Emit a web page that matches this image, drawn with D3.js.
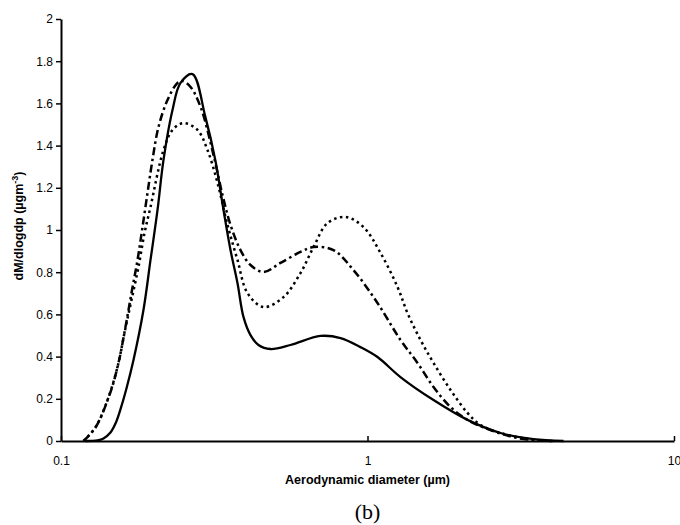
<!DOCTYPE html>
<html>
<head>
<meta charset="utf-8">
<script src="https://cdn.jsdelivr.net/npm/d3@7"></script>
<style>
  body { margin: 0; background: #fff; }
  .tick text { font-family: "Liberation Sans", Arial, sans-serif; font-size: 12px; fill: #000; }
  .axisTitle { font-family: "Liberation Sans", Arial, sans-serif; font-size: 12.5px; font-weight: bold; fill: #000; }
</style>
</head>
<body>
<div id="chart"></div>
<script>
// diameters (µm) and dM/dlogdp values
var solidX = [0.1202, 0.1315, 0.1376, 0.1450, 0.1508, 0.1563, 0.1636, 0.1724, 0.1858, 0.1959, 0.2065, 0.2160, 0.2311, 0.2454, 0.2685, 0.2958, 0.3189, 0.3390, 0.3573, 0.3765, 0.3938, 0.4152, 0.4409, 0.4826, 0.5608, 0.7026, 0.8166, 0.9488, 1.078, 1.281, 1.642, 2.120, 2.716, 3.479, 4.361];
var solidY = [0, 0.003, 0.012, 0.040, 0.085, 0.150, 0.250, 0.384, 0.621, 0.858, 1.095, 1.332, 1.569, 1.697, 1.739, 1.536, 1.33, 1.095, 0.905, 0.749, 0.588, 0.502, 0.455, 0.436, 0.455, 0.498, 0.488, 0.445, 0.398, 0.303, 0.194, 0.100, 0.038, 0.009, 0];

var dottedX = [0.1184, 0.1297, 0.1418, 0.1529, 0.1611, 0.1698, 0.1790, 0.1873, 0.1959, 0.2160, 0.2311, 0.2510, 0.2788, 0.3006, 0.3241, 0.3494, 0.3765, 0.4060, 0.4576, 0.5321, 0.6044, 0.6666, 0.7404, 0.8477, 0.9703, 1.103, 1.253, 1.350, 1.489, 1.642, 1.866, 2.120, 2.337, 2.716, 3.479, 4.106];
var dottedY = [0, 0.066, 0.194, 0.351, 0.512, 0.668, 0.825, 0.986, 1.109, 1.379, 1.474, 1.507, 1.474, 1.379, 1.223, 1.024, 0.858, 0.701, 0.635, 0.682, 0.796, 0.919, 1.033, 1.062, 1.014, 0.891, 0.730, 0.607, 0.479, 0.370, 0.242, 0.133, 0.076, 0.038, 0.005, 0];

var dashDotX = [0.1184, 0.1297, 0.1450, 0.1540, 0.1623, 0.1698, 0.1777, 0.1845, 0.1915, 0.1988, 0.2080, 0.2226, 0.2399, 0.2490, 0.2646, 0.2854, 0.3145, 0.3365, 0.3573, 0.3851, 0.4152, 0.4576, 0.5203, 0.6044, 0.6666, 0.7745, 0.9000, 1.078, 1.281, 1.456, 1.642, 1.866, 2.120, 2.519, 3.086, 3.955];
var dashDotY = [0, 0.065, 0.232, 0.370, 0.540, 0.701, 0.858, 1.014, 1.175, 1.332, 1.488, 1.616, 1.697, 1.706, 1.678, 1.583, 1.355, 1.166, 1.024, 0.905, 0.834, 0.801, 0.844, 0.896, 0.919, 0.905, 0.810, 0.654, 0.479, 0.370, 0.256, 0.161, 0.100, 0.052, 0.014, 0];

var xTicks = [0.1, 1, 10];
var yTicks = [0, 0.2, 0.4, 0.6, 0.8, 1, 1.2, 1.4, 1.6, 1.8, 2];

var svgWidth = 680;
var svgHeight = 525;
var margin = { top: 19, left: 61, right: 6, bottom: 84 };
var width = svgWidth - margin.left - margin.right;
var height = svgHeight - margin.top - margin.bottom;

var svg = d3.select("#chart")
  .append("svg")
  .attr("width", svgWidth)
  .attr("height", svgHeight);

var chartGroup = svg.append("g")
  .attr("transform", `translate(${margin.left}, ${margin.top})`);

// scales
var xScale = d3.scaleLog().domain([0.1, 10]).range([0, width]);
var yScale = d3.scaleLinear().domain([0, 2]).range([height, 0]);

// axes
var xAxis = d3.axisBottom(xScale)
  .tickValues(xTicks)
  .tickFormat(d => String(d))
  .tickSizeInner(-5)
  .tickSizeOuter(0)
  .tickPadding(15);

var yAxis = d3.axisLeft(yScale)
  .tickValues(yTicks)
  .tickFormat(d => String(d))
  .tickSizeInner(5)
  .tickSizeOuter(0)
  .tickPadding(3);

var gx = chartGroup.append("g")
  .attr("transform", `translate(0, ${height})`)
  .call(xAxis);

var gy = chartGroup.append("g")
  .call(yAxis);

[gx, gy].forEach(function(g) {
  g.select(".domain").attr("stroke", "#000").attr("stroke-width", 2);
  g.selectAll(".tick line").attr("stroke", "#000").attr("stroke-width", 1.5);
});

// lines
var line = d3.line()
  .x(d => xScale(d[0]))
  .y(d => yScale(d[1]))
  .curve(d3.curveCatmullRom.alpha(0.5));

var series = [
  { x: solidX, y: solidY, dash: null, width: 2.3 },
  { x: dottedX, y: dottedY, dash: "2.5,3.5", width: 2.5 },
  { x: dashDotX, y: dashDotY, dash: "8,3.5,2.5,3.5", width: 2.5 }
];

series.forEach(function(s) {
  var pts = s.x.map((v, i) => [v, s.y[i]]);
  chartGroup.append("path")
    .datum(pts)
    .attr("d", line)
    .attr("fill", "none")
    .attr("stroke", "#000")
    .attr("stroke-width", s.width)
    .attr("stroke-dasharray", s.dash);
});

// axis titles
svg.append("text")
  .attr("class", "axisTitle")
  .attr("x", margin.left + xScale(1))
  .attr("y", 484)
  .attr("text-anchor", "middle")
  .text("Aerodynamic diameter (µm)");

var yTitle = svg.append("text")
  .attr("class", "axisTitle")
  .attr("transform", "translate(23, 226) rotate(-90)")
  .attr("text-anchor", "middle");
yTitle.append("tspan").text("dM/dlogdp (µgm");
yTitle.append("tspan").attr("dy", -5).attr("font-size", "9px").text("-3");
yTitle.append("tspan").attr("dy", 5).text(")");

// panel label
svg.append("text")
  .attr("x", margin.left + xScale(1))
  .attr("y", 519)
  .attr("text-anchor", "middle")
  .attr("font-family", "'Liberation Serif', 'Times New Roman', serif")
  .attr("font-size", "22px")
  .attr("fill", "#000")
  .text("(b)");
</script>
</body>
</html>
